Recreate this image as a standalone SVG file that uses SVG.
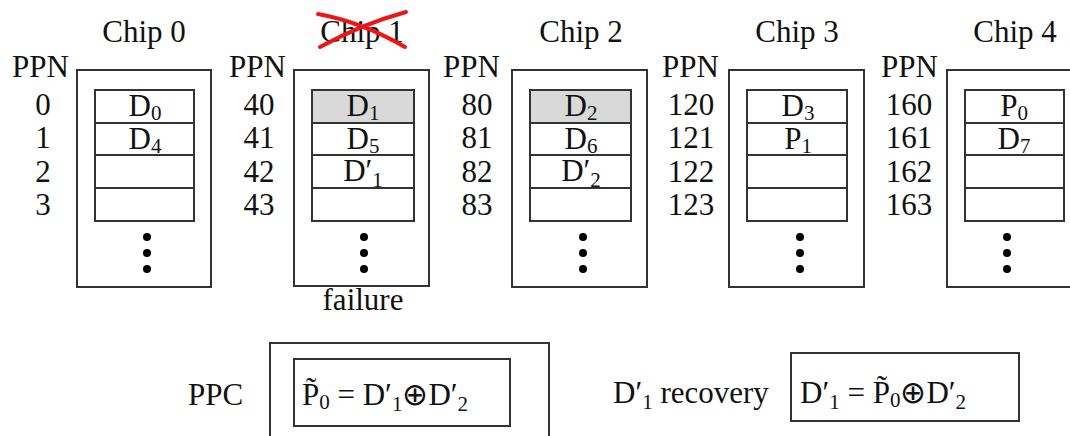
<svg xmlns="http://www.w3.org/2000/svg" width="1070" height="436" viewBox="0 0 1070 436">
<style>
text{font-family:"Liberation Serif","Times New Roman",serif;font-size:31px;fill:#111}
.c{text-anchor:middle}
.sub{font-size:21px}
.outer{fill:#fff;stroke:#333;stroke-width:2}
.cell{fill:#fff;stroke:#333;stroke-width:2}
.gray{fill:#d9d9d9}
.dot{fill:#000}
.x{fill:none;stroke:#f01414;stroke-width:4;stroke-linecap:round}
</style>
<defs>
<g id="dots"><circle cx="0" cy="237" r="4" class="dot"/><circle cx="0" cy="253" r="4" class="dot"/><circle cx="0" cy="269" r="4" class="dot"/></g>
</defs>
<rect width="1070" height="436" fill="#fff"/>

<g id="chip0">
<text class="c" x="144" y="42">Chip 0</text>
<text x="12" y="77">PPN</text>
<rect class="outer" x="77" y="70" width="134" height="217"/>
<rect class="cell" x="95" y="90" width="99" height="33"/>
<rect class="cell" x="95" y="123" width="99" height="32"/>
<rect class="cell" x="95" y="155" width="99" height="33"/>
<rect class="cell" x="95" y="188" width="99" height="33"/>
<text class="c" x="43" y="115">0</text><text class="c" x="43" y="148">1</text><text class="c" x="43" y="182">2</text><text class="c" x="43" y="215">3</text>
<text class="c" x="145" y="116">D<tspan class="sub" dy="4">0</tspan></text>
<text class="c" x="145" y="149">D<tspan class="sub" dy="4">4</tspan></text>
<use href="#dots" x="147"/>
</g>

<g id="chip1">
<text class="c" x="362" y="42">Chip 1</text>
<path class="x" d="M318,14 Q362,22 405,47"/>
<path class="x" d="M320,47 Q362,24 406,12"/>
<text x="229" y="77">PPN</text>
<rect class="outer" x="294" y="70" width="135" height="216"/>
<rect class="cell gray" x="312" y="90" width="102" height="33"/>
<rect class="cell" x="312" y="123" width="102" height="32"/>
<rect class="cell" x="312" y="155" width="102" height="33"/>
<rect class="cell" x="312" y="188" width="102" height="33"/>
<text class="c" x="259" y="115">40</text><text class="c" x="259" y="148">41</text><text class="c" x="259" y="182">42</text><text class="c" x="259" y="215">43</text>
<text class="c" x="363" y="116">D<tspan class="sub" dy="4">1</tspan></text>
<text class="c" x="363" y="149">D<tspan class="sub" dy="4">5</tspan></text>
<text class="c" x="363" y="181">D′<tspan class="sub" dy="6">1</tspan></text>
<use href="#dots" x="364"/>
<text class="c" x="363" y="310">failure</text>
</g>

<g id="chip2">
<text class="c" x="581" y="42">Chip 2</text>
<text x="443" y="77">PPN</text>
<rect class="outer" x="512" y="70" width="135" height="217"/>
<rect class="cell gray" x="530" y="90" width="101" height="33"/>
<rect class="cell" x="530" y="123" width="101" height="32"/>
<rect class="cell" x="530" y="155" width="101" height="33"/>
<rect class="cell" x="530" y="188" width="101" height="33"/>
<text class="c" x="477" y="115">80</text><text class="c" x="477" y="148">81</text><text class="c" x="477" y="182">82</text><text class="c" x="477" y="215">83</text>
<text class="c" x="581" y="116">D<tspan class="sub" dy="4">2</tspan></text>
<text class="c" x="581" y="149">D<tspan class="sub" dy="4">6</tspan></text>
<text class="c" x="581" y="181">D′<tspan class="sub" dy="6">2</tspan></text>
<use href="#dots" x="583"/>
</g>

<g id="chip3">
<text class="c" x="797" y="42">Chip 3</text>
<text x="662" y="77">PPN</text>
<rect class="outer" x="729" y="70" width="135" height="217"/>
<rect class="cell" x="747" y="90" width="100" height="33"/>
<rect class="cell" x="747" y="123" width="100" height="32"/>
<rect class="cell" x="747" y="155" width="100" height="33"/>
<rect class="cell" x="747" y="188" width="100" height="33"/>
<text class="c" x="691" y="115">120</text><text class="c" x="691" y="148">121</text><text class="c" x="691" y="182">122</text><text class="c" x="691" y="215">123</text>
<text class="c" x="798" y="116">D<tspan class="sub" dy="4">3</tspan></text>
<text class="c" x="798" y="149">P<tspan class="sub" dy="4">1</tspan></text>
<use href="#dots" x="800"/>
</g>

<g id="chip4">
<text class="c" x="1015" y="42">Chip 4</text>
<text x="881" y="77">PPN</text>
<rect class="outer" x="947" y="70" width="135" height="217"/>
<rect class="cell" x="965" y="90" width="99" height="33"/>
<rect class="cell" x="965" y="123" width="99" height="32"/>
<rect class="cell" x="965" y="155" width="99" height="33"/>
<rect class="cell" x="965" y="188" width="99" height="33"/>
<text class="c" x="909" y="115">160</text><text class="c" x="909" y="148">161</text><text class="c" x="909" y="182">162</text><text class="c" x="909" y="215">163</text>
<text class="c" x="1014" y="116">P<tspan class="sub" dy="4">0</tspan></text>
<text class="c" x="1014" y="149">D<tspan class="sub" dy="4">7</tspan></text>
<use href="#dots" x="1007"/>
</g>

<g id="ppc">
<text x="188" y="405">PPC</text>
<rect class="outer" x="270" y="343" width="279" height="110"/>
<rect class="cell" x="294" y="359" width="216" height="67"/>
<text x="302" y="405">P̃<tspan class="sub" dy="4">0</tspan><tspan dy="-4"> = D′</tspan><tspan class="sub" dy="6">1</tspan><tspan dy="-6">⊕D′</tspan><tspan class="sub" dy="6">2</tspan></text>
</g>

<g id="recovery">
<text x="613" y="403">D′<tspan class="sub" dy="6">1</tspan><tspan dy="-6"> recovery</tspan></text>
<rect class="cell" x="791" y="353" width="228" height="68"/>
<text x="800" y="403">D′<tspan class="sub" dy="6">1</tspan><tspan dy="-6"> = P̃</tspan><tspan class="sub" dy="4">0</tspan><tspan dy="-4">⊕D′</tspan><tspan class="sub" dy="6">2</tspan></text>
</g>

<g id="connectors"/>
</svg>
